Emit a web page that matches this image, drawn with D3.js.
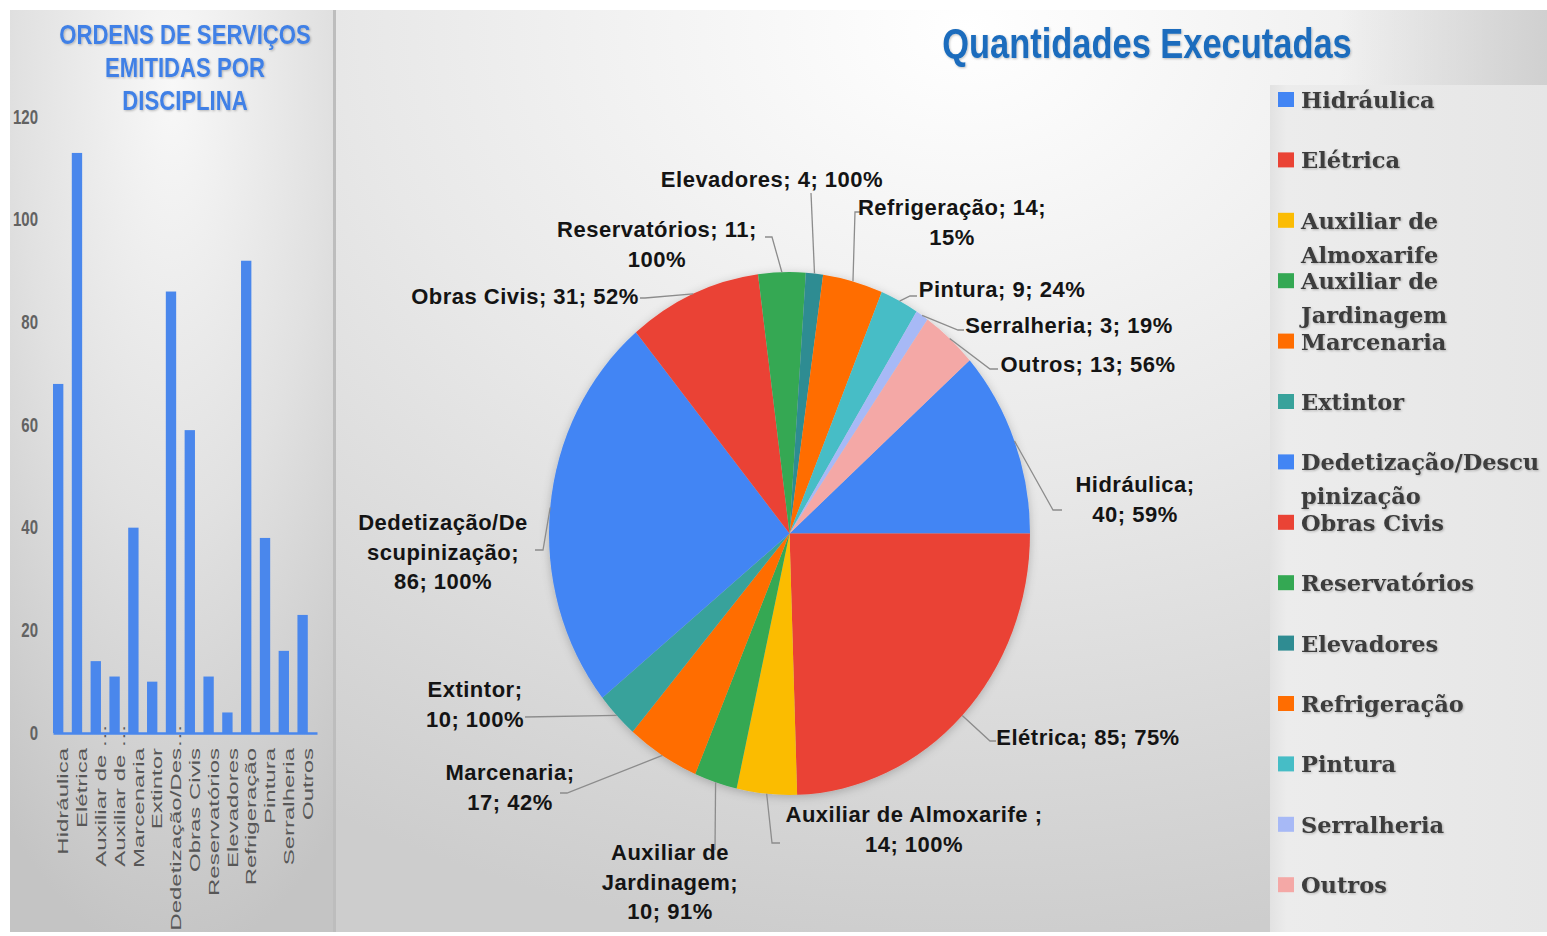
<!DOCTYPE html>
<html>
<head>
<meta charset="utf-8">
<script src="https://cdn.jsdelivr.net/npm/d3@7"></script>
<style>
  body { margin: 0; background: #fff; }
  svg { display: block; }
</style>
</head>
<body>
<div id="chart"></div>
<script>
// ---- data ----
const categories = ["Hidráulica", "Elétrica", "Auxiliar de Almoxarife ", "Auxiliar de Jardinagem", "Marcenaria", "Extintor",
  "Dedetização/Descupinização", "Obras Civis", "Reservatórios", "Elevadores", "Refrigeração", "Pintura", "Serralheria", "Outros"];
const barTickLabels = ["Hidráulica", "Elétrica", "Auxiliar de …", "Auxiliar de …", "Marcenaria", "Extintor",
  "Dedetização/Des…", "Obras Civis", "Reservatórios", "Elevadores", "Refrigeração", "Pintura", "Serralheria", "Outros"];
const emitidas = [68, 113, 14, 11, 40, 10, 86, 59, 11, 4, 92, 38, 16, 23];
const executadas = [40, 85, 14, 10, 17, 10, 86, 31, 11, 4, 14, 9, 3, 13];
const percentuais = [59, 75, 100, 91, 42, 100, 100, 52, 100, 100, 15, 24, 19, 56];
const yTicks = [0, 20, 40, 60, 80, 100, 120];

// slice colours
const pieColors = ["#4285f4", "#ea4335", "#fbbc04", "#34a853", "#ff6d01", "#38a29b", "#4285f4",
  "#ea4335", "#34a853", "#2f8c92", "#ff6d01", "#46bdc6", "#a7b9f6", "#f4a8a6"];

// label placement for the pie (text centre, first baseline, wrap width, leader elbow + end)
const pieLabelLayout = [
  { x: 1135, y: 492, w: 135, pts: [[1053, 510], [1062, 510]] },
  { x: 1088, y: 745, w: 400, pts: [[990, 741], [996, 741]] },
  { x: 914, y: 822, w: 280, pts: [[772, 843], [780, 843]] },
  { x: 670, y: 860, w: 150, pts: [[715, 850]] },
  { x: 510, y: 780, w: 145, pts: [[567, 793], [560, 793]] },
  { x: 475, y: 697, w: 115, pts: [[525, 717]] },
  { x: 443, y: 530, w: 176, pts: [[543, 550], [535, 550]] },
  { x: 525, y: 304, w: 400, pts: [[645, 298], [640, 298]] },
  { x: 657, y: 237, w: 225, pts: [[772, 237], [765, 237]] },
  { x: 772, y: 187, w: 400, pts: [[811, 193]] },
  { x: 952, y: 215, w: 210, pts: [[855, 212], [860, 212]] },
  { x: 1002, y: 297, w: 400, pts: [[910, 296], [917, 296]] },
  { x: 1069, y: 333, w: 400, pts: [[958, 330], [964, 330]] },
  { x: 1088, y: 372, w: 400, pts: [[990, 369], [998, 369]] }
];

const W = 1547, H = 936;
const svg = d3.select("#chart").append("svg").attr("width", W).attr("height", H);
const defs = svg.append("defs");

// backgrounds
const gLeft = defs.append("radialGradient").attr("id", "bgLeft")
  .attr("cx", "50%").attr("cy", "8%").attr("r", "95%");
gLeft.append("stop").attr("offset", 0).attr("stop-color", "#f8f8f8");
gLeft.append("stop").attr("offset", 0.5).attr("stop-color", "#e1e1e1");
gLeft.append("stop").attr("offset", 1).attr("stop-color", "#c4c4c4");

const gRight = defs.append("radialGradient").attr("id", "bgRight")
  .attr("cx", "52%").attr("cy", "2%").attr("r", "100%");
gRight.append("stop").attr("offset", 0).attr("stop-color", "#ffffff");
gRight.append("stop").attr("offset", 0.5).attr("stop-color", "#e8e8e8");
gRight.append("stop").attr("offset", 1).attr("stop-color", "#cdcdcd");

const gCorner = defs.append("linearGradient").attr("id", "bgCorner");
gCorner.append("stop").attr("offset", 0).attr("stop-color", "#d2d2d2").attr("stop-opacity", 0);
gCorner.append("stop").attr("offset", 1).attr("stop-color", "#d0d0d0");

const gLegend = defs.append("linearGradient").attr("id", "bgLegend");
gLegend.append("stop").attr("offset", 0).attr("stop-color", "#e2e2e2");
gLegend.append("stop").attr("offset", 0.06).attr("stop-color", "#ececec");
gLegend.append("stop").attr("offset", 1).attr("stop-color", "#e6e6e6");

const shadow = defs.append("filter").attr("id", "shadow").attr("x", "-10%").attr("y", "-10%")
  .attr("width", "120%").attr("height", "120%");
shadow.append("feDropShadow").attr("dx", 0).attr("dy", 2).attr("stdDeviation", 5)
  .attr("flood-color", "#000").attr("flood-opacity", 0.22);

const txtShadow = defs.append("filter").attr("id", "txtShadow");
txtShadow.append("feDropShadow").attr("dx", 1).attr("dy", 1).attr("stdDeviation", 1)
  .attr("flood-color", "#000").attr("flood-opacity", 0.25);

svg.append("rect").attr("x", 10).attr("y", 10).attr("width", 325).attr("height", 922).attr("fill", "url(#bgLeft)");
svg.append("rect").attr("x", 336).attr("y", 10).attr("width", 1211).attr("height", 922).attr("fill", "url(#bgRight)");
svg.append("rect").attr("x", 333).attr("y", 10).attr("width", 3).attr("height", 922).attr("fill", "#bdbdbd");
svg.append("rect").attr("x", 1340).attr("y", 10).attr("width", 207).attr("height", 75).attr("fill", "url(#bgCorner)");
svg.append("rect").attr("x", 1270).attr("y", 85).attr("width", 277).attr("height", 847).attr("fill", "url(#bgLegend)");

// ---- left: bar chart ----
// condensed bold titles (narrow font squeezed horizontally)
const leftTitle = ["ORDENS DE SERVIÇOS", "EMITIDAS POR", "DISCIPLINA"];
svg.append("g").attr("filter", "url(#txtShadow)")
  .selectAll("text").data(leftTitle).join("text")
  .attr("transform", (d, i) => `translate(185,${44 + i * 33}) scale(0.82,1)`)
  .attr("text-anchor", "middle")
  .style("font-family", "'Liberation Sans', Arial, sans-serif")
  .style("font-weight", "bold").style("font-size", "27px")
  .attr("fill", "#3f80e6")
  .text(d => d);

const x = d3.scaleBand().domain(barTickLabels.map((d, i) => i))
  .range([53, 317]).paddingInner(0.45).paddingOuter(0.245).align(0);
const y = d3.scaleLinear().domain([0, 120]).range([733, 117]);

const yAxis = svg.append("g").attr("transform", "translate(38,0)")
  .call(d3.axisLeft(y).tickValues(yTicks).tickSize(0).tickPadding(0));
yAxis.select(".domain").remove();
yAxis.selectAll("text")
  .attr("transform", "scale(1,1.3)")
  .style("font-family", "'Liberation Sans', Arial, sans-serif")
  .style("font-size", "15px").style("font-weight", "bold")
  .attr("fill", "#626262");

svg.append("g").selectAll("rect").data(emitidas).join("rect")
  .attr("x", (d, i) => x(i))
  .attr("y", d => y(d))
  .attr("width", x.bandwidth())
  .attr("height", d => y(0) - y(d))
  .attr("fill", "#4a87ec");

const xAxis = svg.append("g").attr("transform", `translate(0,${y(0)})`)
  .call(d3.axisBottom(x).tickSize(0).tickFormat(i => barTickLabels[i]));
xAxis.select(".domain").attr("stroke", "#4a87ec").attr("stroke-width", 2.5);
xAxis.selectAll("text")
  .attr("x", 0).attr("y", 0)
  .attr("dy", "0.35em")
  .attr("dx", d => barTickLabels[d].endsWith("…") ? "1em" : 0)
  .attr("text-anchor", "end")
  .attr("transform", "translate(5,15) rotate(-90) scale(1.6,1)")
  .style("font-family", "'Liberation Sans', Arial, sans-serif")
  .style("font-size", "15px")
  .attr("fill", "#575757");

// ---- right: pie chart ----
svg.append("text")
  .attr("transform", "translate(1147,58) scale(0.82,1)")
  .attr("text-anchor", "middle")
  .attr("filter", "url(#txtShadow)")
  .style("font-family", "'Liberation Sans', Arial, sans-serif")
  .style("font-weight", "bold").style("font-size", "42px")
  .attr("fill", "#1a6cbd")
  .text("Quantidades Executadas");

const cx = 789.5, cy = 533.5, R = 240.5, ky = 1.087;
const total = d3.sum(executadas);
const start = Math.PI / 2 - 2 * Math.PI * executadas[0] / total;
const pie = d3.pie().sort(null).startAngle(start).endAngle(start + 2 * Math.PI);
const arcs = pie(executadas);
const arc = d3.arc().innerRadius(0).outerRadius(R);

svg.append("g")
  .attr("filter", "url(#shadow)")
  .append("g")
  .attr("transform", `translate(${cx},${cy}) scale(1,${ky})`)
  .selectAll("path").data(arcs).join("path")
  .attr("d", arc)
  .attr("fill", (d, i) => pieColors[i]);

// leader lines
const line = d3.line();
svg.append("g").selectAll("path").data(arcs).join("path")
  .attr("d", (d, i) => {
    const a = (d.startAngle + d.endAngle) / 2;
    const p0 = [cx + R * Math.sin(a), cy - R * ky * Math.cos(a)];
    return line([p0, ...pieLabelLayout[i].pts]);
  })
  .attr("fill", "none")
  .attr("stroke", "#8c8c8c")
  .attr("stroke-width", 1.3);

// labels with wrapping like the spreadsheet does
const labelFont = (sel) => sel
  .style("font-family", "'Liberation Sans', Arial, sans-serif")
  .style("font-weight", "bold").style("font-size", "22px")
  .style("letter-spacing", "0.5px");

const measure = svg.append("text").call(labelFont).attr("visibility", "hidden");
function textWidth(s, fontFn) {
  measure.call(fontFn).text(s);
  return measure.node().getComputedTextLength();
}
function wrap(str, maxW, fontFn) {
  const words = str.split(" ");
  const lines = [];
  let cur = "";
  words.forEach(w => {
    const cand = cur ? cur + " " + w : w;
    if (textWidth(cand, fontFn) <= maxW) { cur = cand; return; }
    if (cur) lines.push(cur);
    cur = "";
    if (textWidth(w, fontFn) <= maxW) { cur = w; return; }
    let chunk = "";
    for (const ch of w) {
      if (textWidth(chunk + ch, fontFn) > maxW && chunk) { lines.push(chunk); chunk = ch; }
      else chunk += ch;
    }
    cur = chunk;
  });
  if (cur) lines.push(cur);
  return lines;
}

const labels = svg.append("g");
categories.forEach((c, i) => {
  const L = pieLabelLayout[i];
  const lines = wrap(`${c}; ${executadas[i]}; ${percentuais[i]}%`, L.w, labelFont);
  const t = labels.append("text").attr("text-anchor", "middle").attr("fill", "#141414").call(labelFont);
  lines.forEach((ln, j) => {
    t.append("tspan").attr("x", L.x).attr("y", L.y + j * 29.5).text(ln);
  });
});

// legend
const legendFont = (sel) => sel
  .style("font-family", "'DejaVu Serif', serif")
  .style("font-weight", "bold").style("font-size", "22.5px")
  .style("letter-spacing", "0px");

const legend = svg.append("g");
categories.forEach((c, i) => {
  const by = 108 + i * 60.4;
  legend.append("rect")
    .attr("x", 1278).attr("y", by - 16).attr("width", 16).attr("height", 15)
    .attr("fill", pieColors[i]);
  const lines = wrap(c.trim(), 245, legendFont);
  const t = legend.append("text").attr("fill", "#3c3c3c").attr("filter", "url(#txtShadow)").call(legendFont);
  lines.forEach((ln, j) => {
    t.append("tspan").attr("x", 1301).attr("y", by + j * 34).text(ln);
  });
});
measure.remove();
</script>
</body>
</html>
